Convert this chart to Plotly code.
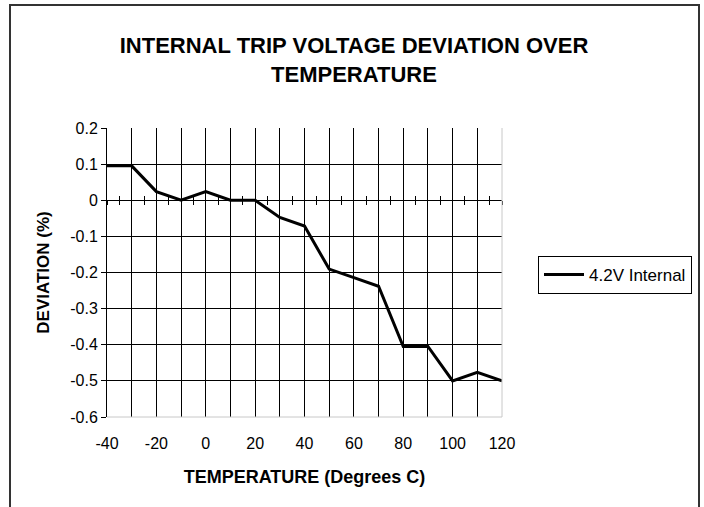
import plotly.graph_objects as go

temperature = [-40, -30, -20, -10, 0, 10, 20, 30, 40, 50, 60, 70, 80, 90, 100, 110, 120]
deviation = [0.0952, 0.0952, 0.0238, 0.0, 0.0238, 0.0, 0.0, -0.0476, -0.0714, -0.1905,
             -0.2143, -0.2381, -0.4048, -0.4048, -0.5, -0.4762, -0.5]
series_name = "4.2V Internal"

x_tick_vals = [-40, -20, 0, 20, 40, 60, 80, 100, 120]
x_tick_text = ["-40", "-20", "0", "20", "40", "60", "80", "100", "120"]
y_tick_vals = [0.2, 0.1, 0.0, -0.1, -0.2, -0.3, -0.4, -0.5, -0.6]
y_tick_text = ["0.2", "0.1", "0", "-0.1", "-0.2", "-0.3", "-0.4", "-0.5", "-0.6"]

FONT = "Liberation Sans, Arial, sans-serif"
W, H = 704, 507
L, R, T, B = 107, 202, 128, 90
pw, ph = W - L - R, H - T - B

def px_x(px):
    return (px - L) / pw

def px_y(py):
    return (H - B - py) / ph

fig = go.Figure()
fig.add_trace(go.Scatter(
    x=temperature, y=deviation, mode="lines", name=series_name,
    line=dict(color="black", width=3), showlegend=True))

fig.update_layout(
    width=W, height=H,
    margin=dict(l=L, r=R, t=T, b=B),
    paper_bgcolor="white", plot_bgcolor="white",
    font=dict(family=FONT, color="black", size=16),
    title=dict(text="<b>INTERNAL TRIP VOLTAGE DEVIATION OVER<br>TEMPERATURE</b>",
               x=354 / W, xref="container", xanchor="center",
               y=1 - 53 / H, yref="container", yanchor="top",
               font=dict(size=22, family=FONT, color="black")),
    showlegend=True,
    legend=dict(x=px_x(538), y=px_y(256), xanchor="left", yanchor="top",
                bordercolor="black", borderwidth=1, bgcolor="white",
                itemwidth=40,
                font=dict(size=17, family=FONT)),
    xaxis=dict(range=[-40, 120], tickvals=x_tick_vals, ticktext=x_tick_text,
               showgrid=True, gridcolor="black", gridwidth=1,
               minor=dict(dtick=10, showgrid=True, gridcolor="black", gridwidth=1),
               ticks="outside", ticklen=12, tickcolor="rgba(0,0,0,0)",
               showline=False, zeroline=False,
               tickfont=dict(size=16),
               title=dict(text="<b>TEMPERATURE (Degrees C)</b>", font=dict(size=18), standoff=19)),
    xaxis2=dict(range=[-40, 120], overlaying="x", anchor="free", position=0.75,
                dtick=5, tick0=0, ticks="outside", ticklen=4, tickcolor="black",
                showline=True, linecolor="black", linewidth=1,
                showticklabels=False, showgrid=False, zeroline=False),
    xaxis3=dict(range=[-40, 120], overlaying="x", anchor="free", position=0.75,
                dtick=5, tick0=0, ticks="inside", ticklen=4, tickcolor="black",
                showline=False, showticklabels=False, showgrid=False, zeroline=False),
    yaxis=dict(range=[-0.6, 0.2], tickvals=y_tick_vals, ticktext=y_tick_text,
               showgrid=True, gridcolor="black", gridwidth=1,
               ticks="outside", ticklen=5, tickcolor="black",
               showline=True, linecolor="black", linewidth=1, zeroline=False,
               tickfont=dict(size=16),
               title=dict(text="<b>DEVIATION (%)</b>", font=dict(size=17), standoff=16)),
)

# invisible helpers so overlay axes are drawn
fig.add_trace(go.Scatter(x=temperature, y=deviation, xaxis="x2", mode="lines",
                         line=dict(width=0), hoverinfo="skip", showlegend=False))
fig.add_trace(go.Scatter(x=temperature, y=deviation, xaxis="x3", mode="lines",
                         line=dict(width=0), hoverinfo="skip", showlegend=False))

# plot-area right/bottom edges (light gray) and outer chart border
fig.add_shape(type="line", xref="paper", yref="paper", x0=1, x1=1, y0=0, y1=1,
              line=dict(color="#c8c8c8", width=1), layer="above")
fig.add_shape(type="line", xref="paper", yref="paper", x0=0, x1=1, y0=0, y1=0,
              line=dict(color="#c8c8c8", width=1), layer="above")
fig.add_shape(type="rect", xref="paper", yref="paper",
              x0=px_x(10), x1=px_x(699), y0=px_y(512), y1=px_y(5),
              line=dict(color="#333333", width=2), fillcolor="rgba(0,0,0,0)", layer="above")

fig.write_html("out.html", config={"displayModeBar": False},
               post_script="document.body.style.margin='0';")
